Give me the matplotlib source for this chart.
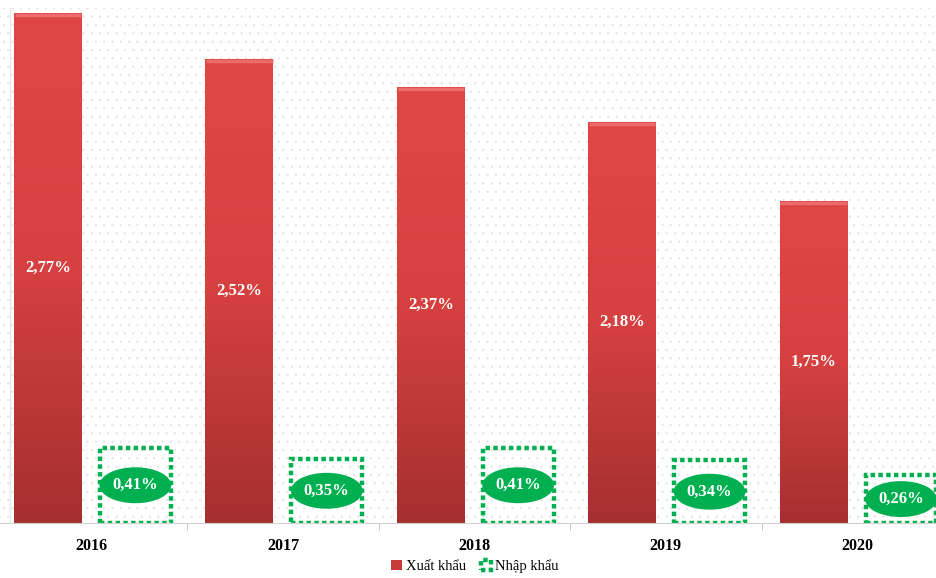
import matplotlib
matplotlib.use("Agg")
import matplotlib.pyplot as plt
import numpy as np
from matplotlib.patches import Ellipse
from matplotlib.colors import LinearSegmentedColormap

plt.rcParams['font.family'] = ['Liberation Serif', 'DejaVu Serif']
plt.rcParams['hatch.linewidth'] = 0.35

years = ['2016', '2017', '2018', '2019', '2020']
xuat_khau = [2.77, 2.52, 2.37, 2.18, 1.75]
nhap_khau = [0.41, 0.35, 0.41, 0.34, 0.26]

red = '#C83B3B'
green = '#00B050'

fig = plt.figure(figsize=(9.37, 5.78), dpi=100)
# plot area is cropped slightly at both sides in the reference
ax = fig.add_axes([-4 / 937, 55 / 578, 957 / 937, 515.5 / 578])
ax.set_xlim(-0.5, 4.5)
ax.set_ylim(0, 2.80)

ax.patch.set_hatch('..')
ax.patch.set_edgecolor('#e2e2e2')

x = np.arange(len(years))
w_red = 0.355
w_green = 0.37
off = 0.228

bars = ax.bar(x - off, xuat_khau, w_red, color=red, zorder=2, label='Xuất khẩu')

# vertical gradient on the red bars: lighter on top, darker at the base
cmap = LinearSegmentedColormap.from_list('rg', ['#E04646', '#D64040', '#A52F2F'])
grad = np.linspace(0, 1, 256).reshape(-1, 1)
for b in bars:
    x0, h, bw = b.get_x(), b.get_height(), b.get_width()
    im = ax.imshow(grad, cmap=cmap, aspect='auto', extent=(x0, x0 + bw, 0, h),
                   origin='upper', zorder=2.5, interpolation='bicubic')
    im.set_clip_path(b)
    ax.plot([x0 + 0.004, x0 + bw - 0.004], [h - 0.012, h - 0.012], color='#EC6C6C',
            lw=2.5, zorder=2.6, solid_capstyle='butt')

gbars = ax.bar(x + off, nhap_khau, w_green, facecolor='none', edgecolor=green,
               linewidth=3.2, linestyle=(0, (1.0, 0.75)), zorder=2, label='Nhập khẩu')

for xi, v in zip(x, xuat_khau):
    ax.text(xi - off, v / 2, f"{v:.2f}%".replace('.', ','), ha='center', va='center',
            color='white', fontsize=12, fontweight='bold', zorder=4)

for xi, v in zip(x, nhap_khau):
    yc = v / 2
    ax.add_patch(Ellipse((xi + off, yc), 0.375, 0.195, facecolor=green, edgecolor='none',
                         zorder=3))
    ax.text(xi + off, yc, f"{v:.2f}%".replace('.', ','), ha='center', va='center',
            color='white', fontsize=12, fontweight='bold', zorder=4)

ax.set_xticks(x)
ax.set_xticklabels(years, fontsize=11.5, fontweight='bold')
ax.set_xticks(np.arange(-0.5, 4.6, 1), minor=True)
ax.tick_params(axis='x', which='major', length=0, pad=11)
ax.tick_params(axis='x', which='minor', length=5, color='#bfbfbf')
ax.set_yticks([])
for s in ['top', 'right', 'left']:
    ax.spines[s].set_visible(False)
ax.spines['bottom'].set_color('#d0d0d0')
ax.axvline(-0.5 + 14 / 191.5, color='#e6e6e6', lw=0.8, zorder=1)

fig.legend(handles=[bars, gbars], labels=['Xuất khẩu', 'Nhập khẩu'], loc='lower center',
           bbox_to_anchor=(475 / 937, -0.014), ncol=2, frameon=False, fontsize=10.5,
           handlelength=0.7, handleheight=0.7, handletextpad=0.3, columnspacing=1.0)

fig.savefig('out.png', dpi=100)
